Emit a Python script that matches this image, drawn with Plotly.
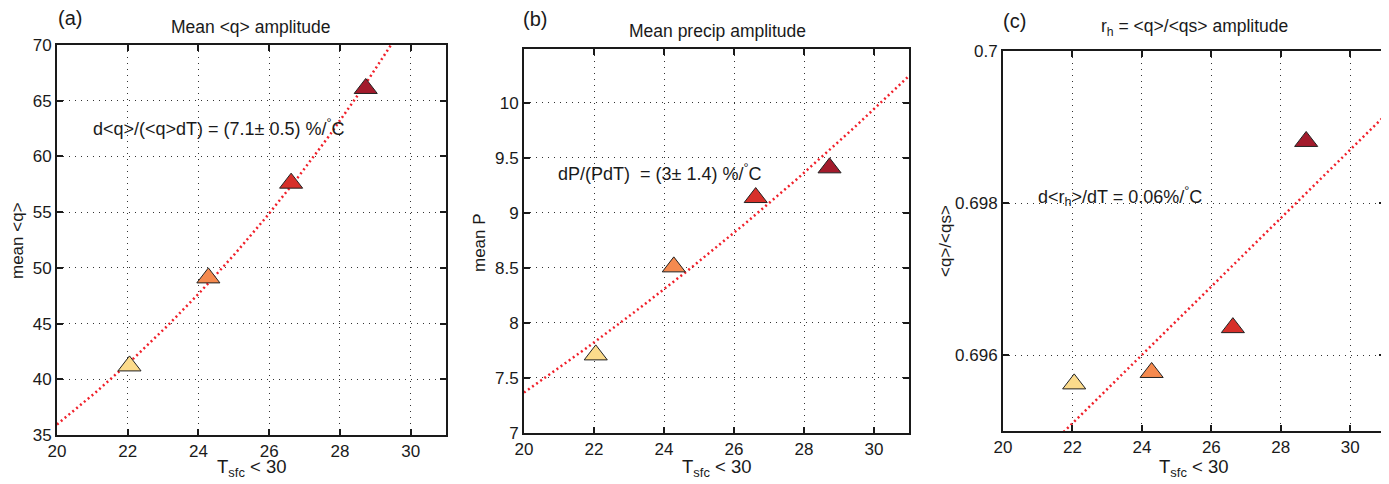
import numpy as np
import plotly.graph_objects as go

# ---- data ----
T_sfc = [22.05, 24.28, 26.62, 28.73]
mean_q = [41.2, 49.1, 57.6, 66.1]
mean_P = [7.71, 8.51, 9.14, 9.41]
rh_amp = [0.69562, 0.69577, 0.69636, 0.69881]
point_colors = ["#FCDB8B", "#F58A4F", "#D7302A", "#A31B2C"]

x_ticks = [20, 22, 24, 26, 28, 30]
q_ticks = [35, 40, 45, 50, 55, 60, 65, 70]
P_ticks = [7, 7.5, 8, 8.5, 9, 9.5, 10]
P_ticktext = ["7", "7.5", "8", "8.5", "9", "9.5", "10"]
rh_ticks = [0.696, 0.698, 0.700]
rh_ticktext = ["0.696", "0.698", "0.7"]

# ---- fits derived from the data ----
xs = np.linspace(20, 31, 200)
bq = np.polyfit(T_sfc, np.log(mean_q), 1)
bP = np.polyfit(T_sfc, np.log(mean_P), 1)
br = np.polyfit(T_sfc, rh_amp, 1)
fit_q = np.exp(np.polyval(bq, xs))
fit_P = np.exp(np.polyval(bP, xs))
fit_r = np.polyval(br, xs)

# page body has an 8px margin; size the figure to fill the rest of the window
OFF = 8
W, H = 1389 - OFF, 484 - OFF
def px(x):
    return (x - OFF) / W
def py(y):
    return 1 - (y - OFF) / H

FONT = "Liberation Sans, Arial, Helvetica, sans-serif"
TXT = "#1a1a1a"

fig = go.Figure()

panels = [
    ("x", "y", mean_q, fit_q),
    ("x2", "y2", mean_P, fit_P),
    ("x3", "y3", rh_amp, fit_r),
]
for xa, ya, vals, fit in panels:
    fig.add_trace(go.Scatter(
        x=xs, y=fit, mode="lines", xaxis=xa, yaxis=ya,
        line=dict(color="#F0202A", width=2.5, dash="2px,3px"),
        hoverinfo="skip", showlegend=False))
    fig.add_trace(go.Scatter(
        x=T_sfc, y=vals, mode="markers", xaxis=xa, yaxis=ya,
        marker=dict(symbol="triangle-up", size=20, color=point_colors,
                    line=dict(color="#222222", width=1)),
        showlegend=False, cliponaxis=False))

axis_common = dict(
    showline=True, linecolor="#1a1a1a", linewidth=2, mirror="ticks",
    ticks="inside", ticklen=6, tickwidth=1.5, tickcolor="#1a1a1a",
    showgrid=True, gridcolor="#333333", gridwidth=1, griddash="1px,5px",
    zeroline=False, automargin=False,
    tickfont=dict(family=FONT, size=17, color=TXT),
)

dom_a_x = [px(57), px(446)]
dom_a_y = [py(435), py(45)]
dom_b_x = [px(524), px(909)]
dom_b_y = [py(433), py(49)]
dom_c_x = [px(1003), px(1385)]
dom_c_y = [py(431), py(51)]

fig.update_layout(
    width=W, height=H,
    margin=dict(l=0, r=0, t=0, b=0, pad=0),
    paper_bgcolor="white", plot_bgcolor="white",
    xaxis=dict(domain=dom_a_x, anchor="y", range=[20, 31], tickvals=x_ticks, **axis_common),
    yaxis=dict(domain=dom_a_y, anchor="x", range=[35, 70], tickvals=q_ticks, **axis_common),
    xaxis2=dict(domain=dom_b_x, anchor="y2", range=[20, 31], tickvals=x_ticks, **axis_common),
    yaxis2=dict(domain=dom_b_y, anchor="x2", range=[7, 10.49], tickvals=P_ticks,
                ticktext=P_ticktext, **axis_common),
    xaxis3=dict(domain=dom_c_x, anchor="y3", range=[20, 31], tickvals=x_ticks, **axis_common),
    yaxis3=dict(domain=dom_c_y, anchor="x3", range=[0.695, 0.700], tickvals=rh_ticks,
                ticktext=rh_ticktext, **axis_common),
)

ann = []
def A(text, x, y, size=15, xanchor="center", yanchor="middle", textangle=0, xref="paper", yref="paper"):
    ann.append(dict(text=text, x=x, y=y, xref=xref, yref=yref, showarrow=False,
                    xanchor=xanchor, yanchor=yanchor, textangle=textangle,
                    font=dict(family=FONT, size=size, color=TXT)))

# panel labels
A("(a)", px(56), py(18), size=20, xanchor="left")
A("(b)", px(521), py(19), size=20, xanchor="left")
A("(c)", px(1001), py(21), size=20, xanchor="left")
# titles
A("Mean &lt;q&gt; amplitude", px(251), py(27), size=17.5)
A("Mean precip amplitude", px(717), py(31), size=17.5)
A("r<sub>h</sub> = &lt;q&gt;/&lt;qs&gt; amplitude", px(1194), py(28), size=17.5)
# x titles
for cx in (252, 717, 1194):
    A("T<sub>sfc</sub> &lt; 30", px(cx), py(468), size=18.5)
# y titles
A("mean &lt;q&gt;", px(17), py(241), size=17, textangle=-90)
A("mean P", px(479), py(243), size=17, textangle=-90)
A("&lt;q&gt;/&lt;qs&gt;", px(945), py(241), size=17, textangle=-90)
# fit annotations
A("d&lt;q&gt;/(&lt;q&gt;dT) = (7.1± 0.5) %/<sup>°</sup>C", 20.95, 62.6, size=18,
  xanchor="left", xref="x", yref="y")
A("dP/(PdT)  = (3± 1.4) %/<sup>°</sup>C", 20.9, 9.37, size=18,
  xanchor="left", xref="x2", yref="y2")
A("d&lt;r<sub>h</sub>&gt;/dT = 0.06%/<sup>°</sup>C", 20.95, 0.69809, size=18,
  xanchor="left", xref="x3", yref="y3")

fig.update_layout(annotations=ann)
fig.write_html("out.html")
